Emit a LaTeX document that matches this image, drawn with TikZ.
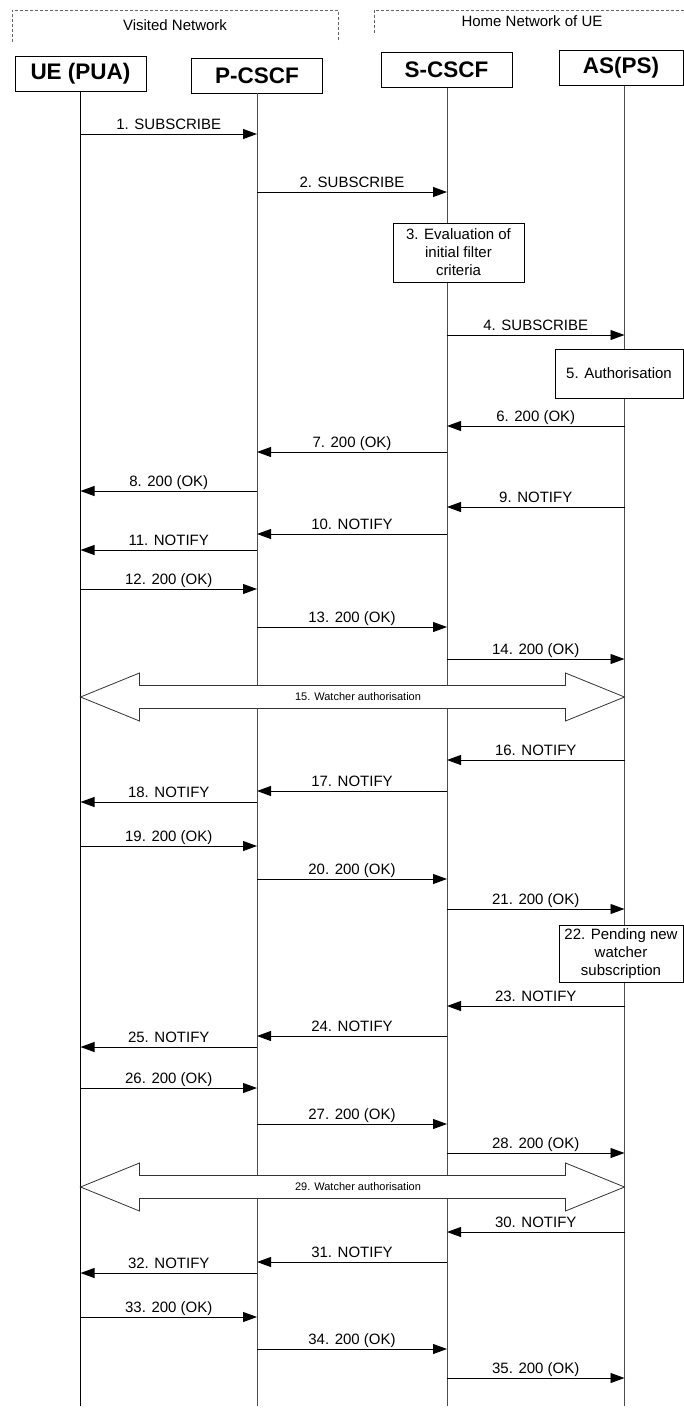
\documentclass[tikz,border=0pt]{standalone}
\usepackage{fontspec}
\setmainfont{Liberation Sans}
\usetikzlibrary{arrows.meta}

\begin{document}
\begin{tikzpicture}[
  x=1pt, y=-1pt,
  head/.style={draw, line width=0.9pt, minimum width=131pt, minimum height=35pt, inner sep=0pt, font=\fontsize{22.5}{27}\selectfont\bfseries},
  note/.style={draw, line width=0.8pt, fill=white, align=center, inner sep=0pt, font=\fontsize{15}{18}\selectfont},
  life/.style={draw=black!70, line width=0.9pt},
  msg/.style={-{Triangle[length=14pt, width=10pt]}, line width=0.9pt},
  lbl/.style={midway, anchor=base, yshift=5pt, inner sep=0pt, font=\fontsize{15}{18}\selectfont},
  fat/.style={draw=black!80, fill=white, line width=0.8pt},
  small/.style={inner sep=0pt, font=\fontsize{11}{13}\selectfont},
  net/.style={draw=black!60, dash pattern=on 3pt off 2pt, line width=0.8pt}
]
\useasboundingbox (0,0) rectangle (684,1409);

% network borders
\draw[net] (12,42) -- (12,10) -- (338,10) -- (338,42);
\draw[net] (374,33) -- (374,10) -- (684,10);
\node[inner sep=0pt, font=\fontsize{15}{18}\selectfont] (visited) at (175,25) {Visited Network};
\node[inner sep=0pt, font=\fontsize{15}{18}\selectfont] (home) at (532,21) {Home Network of UE};

% entities
\node[head] (ue) at (80.5,73.5) {UE (PUA)};
\node[head] (pc) at (257,75.5) {P-CSCF};
\node[head] (sc) at (446.5,70) {S-CSCF};
\node[head, minimum width=124pt] (as) at (621,68) {AS(PS)};

\coordinate (ueB) at (80.5,1406);
\coordinate (pcB) at (257,1406);
\coordinate (scB) at (447,1406);
\coordinate (asB) at (624.5,1406);

\draw[life, draw=black] (ue) -- (ueB);
\draw[life] (pc) -- (pcB);
\draw[life] (scB |- sc.south) -- (scB);
\draw[life] (asB |- as.south) -- (asB);

% message rows
\path (0,134) coordinate (m1) (0,192) coordinate (m2) (0,335) coordinate (m4)
      (0,426) coordinate (m6) (0,452) coordinate (m7) (0,491) coordinate (m8)
      (0,507) coordinate (m9) (0,534) coordinate (m10) (0,550) coordinate (m11)
      (0,589) coordinate (m12) (0,627) coordinate (m13) (0,659) coordinate (m14)
      (0,697) coordinate (m15) (0,760) coordinate (m16) (0,791) coordinate (m17)
      (0,802) coordinate (m18) (0,846) coordinate (m19) (0,879) coordinate (m20)
      (0,909) coordinate (m21) (0,1006) coordinate (m23) (0,1036) coordinate (m24)
      (0,1047) coordinate (m25) (0,1088) coordinate (m26) (0,1124) coordinate (m27)
      (0,1153) coordinate (m28) (0,1187) coordinate (m29) (0,1232) coordinate (m30)
      (0,1262) coordinate (m31) (0,1273) coordinate (m32) (0,1317) coordinate (m33)
      (0,1349) coordinate (m34) (0,1378) coordinate (m35);

\draw[msg] (ueB |- m1) -- node[lbl] {1. SUBSCRIBE} (pcB |- m1);
\draw[msg] (pcB |- m2) -- node[lbl] {2. SUBSCRIBE} (scB |- m2);
\node[note, minimum width=131pt, minimum height=59pt] (eval) at (458.5,252.5) {3. Evaluation of\\initial filter\\criteria};
\draw[msg] (scB |- m4) -- node[lbl] {4. SUBSCRIBE} (asB |- m4);
\node[note, minimum width=128pt, minimum height=49pt] (auth) at (619,373.5) {5. Authorisation};
\draw[msg] (asB |- m6) -- node[lbl] {6. 200 (OK)} (scB |- m6);
\draw[msg] (scB |- m7) -- node[lbl] {7. 200 (OK)} (pcB |- m7);
\draw[msg] (pcB |- m8) -- node[lbl] {8. 200 (OK)} (ueB |- m8);
\draw[msg] (asB |- m9) -- node[lbl] {9. NOTIFY} (scB |- m9);
\draw[msg] (scB |- m10) -- node[lbl] {10. NOTIFY} (pcB |- m10);
\draw[msg] (pcB |- m11) -- node[lbl] {11. NOTIFY} (ueB |- m11);
\draw[msg] (ueB |- m12) -- node[lbl] {12. 200 (OK)} (pcB |- m12);
\draw[msg] (pcB |- m13) -- node[lbl] {13. 200 (OK)} (scB |- m13);
\draw[msg] (scB |- m14) -- node[lbl] {14. 200 (OK)} (asB |- m14);

% watcher authorisation
\draw[fat] (ueB |- m15) -- ++(59,-24) -- ++(0,12.5) -- ++(426,0) -- ++(0,-12.5) -- ++(59,24)
  -- ++(-59,24) -- ++(0,-12.5) -- ++(-426,0) -- ++(0,12.5) -- cycle;
\node[small] (w15) at (358,697) {15. Watcher authorisation};

\draw[msg] (asB |- m16) -- node[lbl] {16. NOTIFY} (scB |- m16);
\draw[msg] (scB |- m17) -- node[lbl] {17. NOTIFY} (pcB |- m17);
\draw[msg] (pcB |- m18) -- node[lbl] {18. NOTIFY} (ueB |- m18);
\draw[msg] (ueB |- m19) -- node[lbl] {19. 200 (OK)} (pcB |- m19);
\draw[msg] (pcB |- m20) -- node[lbl] {20. 200 (OK)} (scB |- m20);
\draw[msg] (scB |- m21) -- node[lbl] {21. 200 (OK)} (asB |- m21);
\node[note, minimum width=124pt, minimum height=57pt] (pend) at (621,953.5) {22. Pending new\\watcher\\subscription};
\draw[msg] (asB |- m23) -- node[lbl] {23. NOTIFY} (scB |- m23);
\draw[msg] (scB |- m24) -- node[lbl] {24. NOTIFY} (pcB |- m24);
\draw[msg] (pcB |- m25) -- node[lbl] {25. NOTIFY} (ueB |- m25);
\draw[msg] (ueB |- m26) -- node[lbl] {26. 200 (OK)} (pcB |- m26);
\draw[msg] (pcB |- m27) -- node[lbl] {27. 200 (OK)} (scB |- m27);
\draw[msg] (scB |- m28) -- node[lbl] {28. 200 (OK)} (asB |- m28);

% watcher authorisation, again
\draw[fat] (ueB |- m29) -- ++(59,-24) -- ++(0,12.5) -- ++(426,0) -- ++(0,-12.5) -- ++(59,24)
  -- ++(-59,24) -- ++(0,-12.5) -- ++(-426,0) -- ++(0,12.5) -- cycle;
\node[small] (w29) at (358,1187) {29. Watcher authorisation};

\draw[msg] (asB |- m30) -- node[lbl] {30. NOTIFY} (scB |- m30);
\draw[msg] (scB |- m31) -- node[lbl] {31. NOTIFY} (pcB |- m31);
\draw[msg] (pcB |- m32) -- node[lbl] {32. NOTIFY} (ueB |- m32);
\draw[msg] (ueB |- m33) -- node[lbl] {33. 200 (OK)} (pcB |- m33);
\draw[msg] (pcB |- m34) -- node[lbl] {34. 200 (OK)} (scB |- m34);
\draw[msg] (scB |- m35) -- node[lbl] {35. 200 (OK)} (asB |- m35);
\end{tikzpicture}
\end{document}
